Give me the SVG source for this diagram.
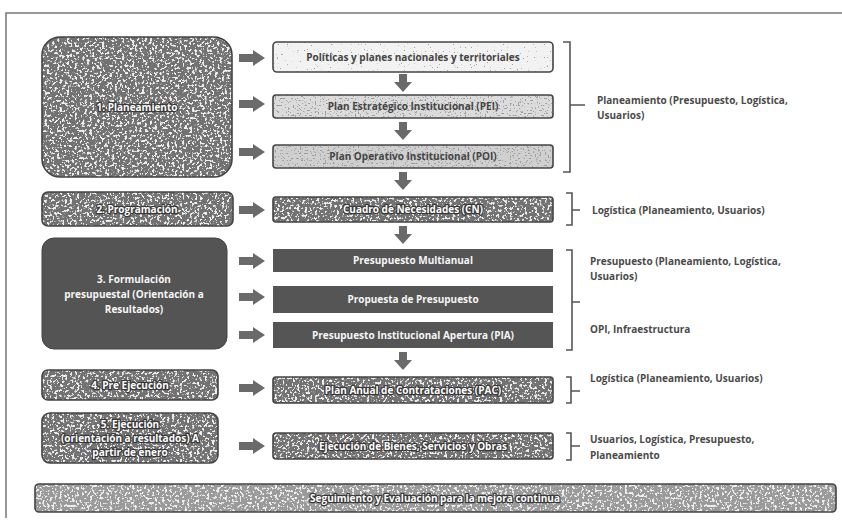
<svg xmlns="http://www.w3.org/2000/svg" width="842" height="520" viewBox="0 0 842 520">
<style>
.t{font-family:"Open Sans","Liberation Sans",sans-serif;font-size:10px;font-weight:bold;text-anchor:middle}
.w{fill:#f6f6f6}
.o{fill:#ffffff;stroke:#3a3a3a;stroke-width:2.6px;paint-order:stroke;stroke-linejoin:round}
.r{font-family:"Open Sans","Liberation Sans",sans-serif;font-size:10px;font-weight:bold;fill:#4a4a4a}
.b{fill:none;stroke:#555;stroke-width:1.6}
.md{fill:#727272;filter:url(#dith)}
.bd{fill:none;stroke:#444;stroke-width:1.6}
.arr{fill:#6a6a6a}
</style>
<defs>
<filter id="dith" x="0" y="0" width="1" height="1">
<feTurbulence type="fractalNoise" baseFrequency="0.4" numOctaves="2" seed="4" result="n"/>
<feColorMatrix in="n" type="matrix" values="0 0 0 0 0.85 0 0 0 0 0.85 0 0 0 0 0.85 12 0 0 0 -6.6" result="spk"/>
<feComposite in="spk" in2="SourceGraphic" operator="atop"/>
</filter>
<filter id="dots" x="0" y="0" width="1" height="1">
<feTurbulence type="fractalNoise" baseFrequency="0.7" numOctaves="1" seed="7" result="n"/>
<feColorMatrix in="n" type="matrix" values="0 0 0 0 0.35 0 0 0 0 0.35 0 0 0 0 0.35 20 0 0 0 -13.5" result="spk"/>
<feComposite in="spk" in2="SourceGraphic" operator="atop"/>
</filter>
<filter id="dots2" x="0" y="0" width="1" height="1">
<feTurbulence type="fractalNoise" baseFrequency="0.6" numOctaves="1" seed="11" result="n"/>
<feColorMatrix in="n" type="matrix" values="0 0 0 0 0.35 0 0 0 0 0.35 0 0 0 0 0.35 16 0 0 0 -9.5" result="spk"/>
<feComposite in="spk" in2="SourceGraphic" operator="atop"/>
</filter>
<path id="ra" d="M0,-4 H14 V-8 L26,0 L14,8 V4 H0 Z"/>
<path id="da" d="M-4,0 H4 V8 H9 L0,18 L-9,8 H-4 Z"/>
</defs>
<rect width="842" height="520" fill="#ffffff"/>
<path d="M6,518 V13 H842" fill="none" stroke="#777" stroke-width="1.5"/>

<g id="n1">
<rect x="42" y="37" width="190" height="140" rx="18" class="md"/>
<rect x="42" y="37" width="190" height="140" rx="18" class="bd"/>
<text x="137" y="111" class="t o">1. Planeamiento</text>
</g>
<g id="m1">
<rect x="273" y="42" width="280" height="30" rx="4" fill="#f2f2f2" filter="url(#dots)"/>
<rect x="273" y="42" width="280" height="30" rx="4" class="bd"/>
<text x="413" y="61" class="t" fill="#444">Políticas y planes nacionales y territoriales</text>
</g>
<g id="m2">
<rect x="273" y="95" width="280" height="23" rx="3" fill="#dcdcdc" filter="url(#dots2)"/>
<rect x="273" y="95" width="280" height="23" rx="3" class="bd"/>
<text x="413" y="110" class="t" fill="#444">Plan Estratégico Institucional (PEI)</text>
</g>
<g id="m3">
<rect x="273" y="145" width="280" height="23" rx="3" fill="#d0d0d0" filter="url(#dots2)"/>
<rect x="273" y="145" width="280" height="23" rx="3" class="bd"/>
<text x="413" y="160" class="t" fill="#444">Plan Operativo Institucional (POI)</text>
</g>

<g id="n2">
<rect x="42" y="192" width="191" height="34" rx="6" class="md"/>
<rect x="42" y="192" width="191" height="34" rx="6" class="bd"/>
<text x="137" y="213" class="t o">2. Programación</text>
</g>
<g id="m4">
<rect x="273" y="197" width="280" height="25" rx="3" class="md"/>
<rect x="273" y="197" width="280" height="25" rx="3" class="bd"/>
<text x="413" y="213" class="t o">Cuadro de Necesidades (CN)</text>
</g>

<g id="n3">
<rect x="42" y="238" width="185" height="111" rx="12" fill="#545454" stroke="#444" stroke-width="1"/>
<text x="134" y="283" class="t w">3. Formulación</text>
<text x="134" y="298" class="t w">presupuestal (Orientación a</text>
<text x="134" y="313" class="t w">Resultados)</text>
</g>
<g id="m5">
<rect x="273" y="249" width="280" height="23" fill="#555"/>
<text x="413" y="264" class="t w">Presupuesto Multianual</text>
</g>
<g id="m6">
<rect x="273" y="286" width="280" height="27" fill="#555"/>
<text x="413" y="303" class="t w">Propuesta de Presupuesto</text>
</g>
<g id="m7">
<rect x="273" y="322" width="280" height="26" fill="#555"/>
<text x="413" y="339" class="t w">Presupuesto Institucional Apertura (PIA)</text>
</g>

<g id="n4">
<rect x="42" y="370" width="176" height="30" rx="6" class="md"/>
<rect x="42" y="370" width="176" height="30" rx="6" class="bd"/>
<text x="130" y="389" class="t o">4. Pre Ejecución</text>
</g>
<g id="m8">
<rect x="273" y="377" width="280" height="26" rx="3" class="md"/>
<rect x="273" y="377" width="280" height="26" rx="3" class="bd"/>
<text x="413" y="394" class="t o">Plan Anual de Contrataciones (PAC)</text>
</g>

<g id="n5">
<rect x="42" y="413" width="176" height="50" rx="8" class="md"/>
<rect x="42" y="413" width="176" height="50" rx="8" class="bd"/>
<text x="130" y="428" class="t o">5. Ejecución</text>
<text x="130" y="442" class="t o">(orientación a resultados) A</text>
<text x="130" y="456" class="t o">partir de enero</text>
</g>
<g id="m9">
<rect x="273" y="433" width="280" height="26" rx="3" class="md"/>
<rect x="273" y="433" width="280" height="26" rx="3" class="bd"/>
<text x="413" y="450" class="t o">Ejecución de Bienes, Servicios y Obras</text>
</g>

<g id="n6">
<rect x="35" y="484" width="801" height="28" rx="4" fill="#9a9a9a" filter="url(#dith)"/>
<rect x="35" y="484" width="801" height="28" rx="4" class="bd"/>
<text x="435" y="502" class="t o">Seguimiento y Evaluación para la mejora continua</text>
</g>

<g id="connectors" class="arr">
<use href="#ra" x="239" y="58"/>
<use href="#ra" x="239" y="104"/>
<use href="#ra" x="239" y="152"/>
<use href="#ra" x="239" y="210"/>
<use href="#ra" x="239" y="261"/>
<use href="#ra" x="239" y="297"/>
<use href="#ra" x="239" y="335"/>
<use href="#ra" x="239" y="388"/>
<use href="#ra" x="239" y="446"/>
<use href="#da" x="403" y="74"/>
<use href="#da" x="403" y="122"/>
<use href="#da" x="403" y="172"/>
<use href="#da" x="403" y="226"/>
<use href="#da" x="403" y="352"/>
</g>

<g id="brackets">
<path class="b" d="M563,42 H570 V172 H563 M570,105 H585"/>
<path class="b" d="M566,193 H572 V225 H566 M572,210 H580"/>
<path class="b" d="M566,250 H572 V350 H566 M572,302 H580"/>
<path class="b" d="M566,377 H571 V403 H566 M571,391 H580"/>
<path class="b" d="M566,433 H571 V460 H566 M571,446 H580"/>
</g>
<g id="labels">
<text x="597" y="104" class="r">Planeamiento (Presupuesto, Logística,</text>
<text x="597" y="119" class="r">Usuarios)</text>
<text x="592" y="214" class="r">Logística (Planeamiento, Usuarios)</text>
<text x="590" y="265" class="r">Presupuesto (Planeamiento, Logística,</text>
<text x="590" y="280" class="r">Usuarios)</text>
<text x="590" y="333" class="r">OPI, Infraestructura</text>
<text x="590" y="382" class="r">Logística (Planeamiento, Usuarios)</text>
<text x="590" y="443" class="r">Usuarios, Logística, Presupuesto,</text>
<text x="590" y="459" class="r">Planeamiento</text>
</g>
</svg>
